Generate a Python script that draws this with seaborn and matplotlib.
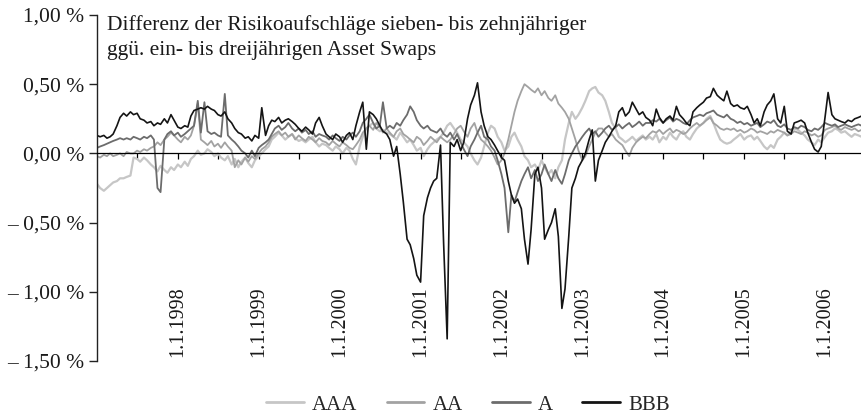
import numpy as np
import pandas as pd
import matplotlib
matplotlib.use("Agg")
import matplotlib.pyplot as plt
import seaborn as sns

# ---- data (values in %) : half-monthly readings 1997-01-01 .. 2006-06-15 ----
dates = pd.date_range("1997-01-01", periods=228, freq="SMS")

aaa = [-0.22, -0.25, -0.27, -0.25, -0.23, -0.21, -0.20, -0.18, -0.18, -0.17, -0.16,
       -0.03, -0.04, -0.06, -0.03, -0.05, -0.08,
       -0.10, -0.13, -0.09, -0.12, -0.14, -0.10, -0.12,
       -0.08, -0.10, -0.06, -0.09, -0.04, -0.02,
       0.02, -0.01, 0.00, 0.03, 0.01, -0.02,
       0.00, -0.03, -0.05, -0.02, -0.08, -0.04, -0.10, -0.06, -0.03,
       -0.07, -0.10, -0.05, -0.02, 0.00, 0.03, 0.05,
       0.10, 0.12, 0.15, 0.13, 0.10, 0.12, 0.14, 0.11, 0.09, 0.10, 0.08, 0.10, 0.12, 0.08, 0.05, 0.07,
       0.06, 0.04, 0.02, 0.05, 0.03, 0.00, 0.04, 0.02, -0.04, -0.08,
       0.05, 0.12, 0.18, 0.20, 0.22, 0.18, 0.16, 0.17, 0.15,
       0.14, 0.12, 0.10, 0.15, 0.12, 0.08, 0.10, 0.06, 0.02, 0.04, -0.02, 0.03, 0.06, 0.08,
       0.10, 0.12, 0.15, 0.20, 0.22, 0.18, 0.15, 0.10, 0.08, 0.05, 0.00, -0.05, -0.08, -0.03, 0.05,
       0.15, 0.20, 0.18, 0.12, 0.08, 0.02,
       0.05, 0.12, 0.15, 0.10, 0.05,
       -0.02, -0.05, -0.10, -0.08, -0.12, -0.05, -0.10, -0.15, -0.12, -0.18, -0.10,
       -0.05, 0.10, 0.22, 0.30, 0.25,
       0.28, 0.33, 0.38, 0.45, 0.47,
       0.48, 0.44, 0.42, 0.38, 0.30,
       0.22, 0.18, 0.12, 0.10, 0.08,
       0.10, 0.12, 0.09, 0.11, 0.13, 0.10,
       0.12, 0.10, 0.14, 0.08, 0.12, 0.10, 0.15, 0.12, 0.10,
       0.14, 0.16, 0.12, 0.10, 0.14, 0.18, 0.20, 0.22, 0.25, 0.27,
       0.22, 0.15, 0.10, 0.08, 0.07,
       0.08, 0.10, 0.12, 0.14, 0.10, 0.12, 0.13, 0.10, 0.12, 0.09,
       0.05, 0.03, 0.06, 0.04, 0.10, 0.12, 0.15, 0.13, 0.16, 0.18,
       0.17, 0.15, 0.13, 0.10, 0.08, 0.06, 0.10, 0.08,
       0.12, 0.15, 0.16, 0.18, 0.17, 0.15, 0.16, 0.14, 0.12, 0.14, 0.13, 0.12]

aa = [-0.02, -0.03, -0.01, -0.02, 0.00, -0.02, -0.01, 0.00, -0.02, 0.01, 0.00, 0.00, 0.02, 0.01, 0.03, 0.02, 0.04,
      0.05, 0.08, 0.06, 0.10, 0.12, 0.15, 0.13, 0.10, 0.08, 0.12, 0.10, 0.13, 0.20, 0.36,
      0.10, 0.08, 0.06, 0.09, 0.05, 0.07, 0.04, 0.08, 0.05, 0.02,
      -0.10, -0.05, -0.08, -0.03, -0.06, -0.02, -0.04, 0.00, 0.03, 0.05,
      0.08, 0.12, 0.14, 0.16, 0.13, 0.15, 0.12, 0.14, 0.10, 0.13, 0.11, 0.09, 0.12, 0.10, 0.08, 0.11, 0.09,
      0.08, 0.06, 0.09, 0.07, 0.05, 0.08, 0.06, 0.04, 0.03, 0.06, 0.10, 0.15, 0.18, 0.20, 0.17, 0.22, 0.19, 0.15, 0.18,
      0.15, 0.12, 0.16, 0.18, 0.14, 0.12, 0.10, 0.08, 0.12, 0.10, 0.06, 0.09, 0.12, 0.10, 0.08, 0.12, 0.10,
      0.08, 0.10, 0.14, 0.18, 0.20, 0.16, 0.12, 0.18, 0.22, 0.15, 0.10, 0.08, 0.05,
      0.02, -0.03, -0.08, -0.05, 0.00, 0.10, 0.20, 0.30, 0.38, 0.45, 0.50, 0.48,
      0.46, 0.44, 0.47, 0.42, 0.45, 0.40, 0.38, 0.42, 0.36, 0.33, 0.30,
      0.25, 0.18, 0.10, 0.02, -0.05, -0.02, 0.05, 0.10, 0.15, 0.18,
      0.18, 0.15, 0.12, 0.14, 0.10, 0.08, 0.06, 0.02, -0.02, 0.04, 0.08, 0.10, 0.12, 0.11,
      0.14, 0.16, 0.15, 0.17, 0.14, 0.16, 0.18, 0.15, 0.17,
      0.16, 0.14, 0.15, 0.18, 0.20, 0.22, 0.20, 0.22, 0.24, 0.26,
      0.22, 0.20, 0.18, 0.17, 0.18,
      0.17, 0.18, 0.16, 0.17, 0.15, 0.16, 0.18, 0.17, 0.15, 0.16,
      0.15, 0.14, 0.16, 0.15, 0.17, 0.16, 0.15, 0.13, 0.14, 0.16,
      0.15, 0.14, 0.16, 0.15, 0.13, 0.14, 0.12, 0.13,
      0.17, 0.18, 0.19, 0.20, 0.18, 0.17, 0.19, 0.18, 0.17, 0.18, 0.16, 0.17]

a = [0.04, 0.05, 0.06, 0.07, 0.08, 0.09, 0.10, 0.11, 0.10, 0.11, 0.10, 0.12, 0.11, 0.10, 0.12, 0.11, 0.13,
     0.10, -0.25, -0.28,
     0.10, 0.14, 0.16, 0.13, 0.15, 0.12, 0.14, 0.16, 0.18, 0.20, 0.38, 0.15, 0.37, 0.16, 0.14, 0.15, 0.13, 0.12, 0.43, 0.13, 0.10,
     0.08, 0.05, 0.02, 0.00, -0.03, 0.02, -0.02, 0.04, 0.06, 0.08,
     0.10, 0.14, 0.18, 0.20, 0.17, 0.19, 0.22, 0.18, 0.16, 0.18, 0.15, 0.17, 0.14, 0.16, 0.12, 0.14, 0.13,
     0.12, 0.10, 0.13, 0.11, 0.09, 0.12, 0.10, 0.13, 0.15, 0.12, 0.16, 0.22, 0.25, 0.28, 0.22, 0.18, 0.20, 0.37, 0.18,
     0.20, 0.18, 0.22, 0.20, 0.24, 0.28, 0.34, 0.30, 0.24, 0.20, 0.18, 0.20, 0.17, 0.16, 0.15, 0.18, 0.14,
     0.12, 0.15, 0.10, 0.14, 0.08, 0.03, -0.02, 0.05, 0.10, 0.15, 0.20, 0.12, 0.10,
     0.05, 0.02, -0.05, -0.15, -0.25, -0.57, -0.30, -0.35, -0.28, -0.20,
     -0.15, -0.10, -0.18, -0.12, -0.20, -0.15, -0.08, -0.15, -0.20, -0.12, -0.18, -0.22, -0.15, -0.05,
     0.00, 0.05, 0.08, 0.12, 0.15, 0.18, 0.14, 0.16, 0.12, 0.15, 0.18, 0.20, 0.17, 0.19, 0.21, 0.18, 0.20, 0.22, 0.19, 0.21, 0.23, 0.20, 0.22,
     0.22, 0.24, 0.23, 0.25, 0.22, 0.24, 0.26, 0.23, 0.25,
     0.24, 0.22, 0.21, 0.24, 0.26, 0.27, 0.28, 0.27, 0.29, 0.30,
     0.31, 0.28, 0.27, 0.26, 0.28,
     0.25, 0.24, 0.22, 0.23, 0.21, 0.22, 0.20, 0.21, 0.22, 0.19,
     0.21, 0.23, 0.22, 0.24, 0.20, 0.19, 0.21, 0.18, 0.17, 0.19,
     0.18, 0.20, 0.19, 0.17, 0.16, 0.18, 0.17, 0.19,
     0.22, 0.21, 0.20, 0.21, 0.19, 0.20, 0.21, 0.20, 0.19, 0.20, 0.21, 0.20]

bbb = [0.13, 0.12, 0.13, 0.11, 0.12,
       0.14, 0.20, 0.26,
       0.29, 0.27, 0.30, 0.28, 0.29,
       0.25, 0.24, 0.22, 0.23,
       0.20, 0.22, 0.21, 0.25,
       0.22, 0.28, 0.24,
       0.19, 0.18, 0.20, 0.19,
       0.27, 0.31,
       0.32, 0.33, 0.32, 0.34, 0.32, 0.31,
       0.28, 0.27, 0.30, 0.25,
       0.22, 0.18, 0.15, 0.14, 0.11,
       0.12, 0.09, 0.13, 0.11,
       0.33,
       0.13, 0.20, 0.24, 0.23,
       0.26, 0.22, 0.24, 0.25, 0.23,
       0.21, 0.18, 0.16, 0.19, 0.17, 0.14,
       0.22, 0.26, 0.20,
       0.14, 0.12, 0.10, 0.14, 0.12, 0.08, 0.13, 0.15, 0.10,
       0.20,
       0.30, 0.37, 0.03, 0.30, 0.28,
       0.25, 0.20, 0.16, 0.14,
       0.10, -0.02, 0.05,
       -0.15, -0.35, -0.62, -0.66, -0.76, -0.88, -0.93, -0.45, -0.32, -0.25, -0.20, -0.18,
       0.06, -0.65, -1.34, 0.08, 0.05,
       0.10, 0.02, 0.08,
       0.25, 0.35, 0.42, 0.51,
       0.30, 0.20, 0.12,
       0.10, 0.06, 0.02, -0.03, -0.05,
       -0.20, -0.30,
       -0.36, -0.33, -0.40,
       -0.62, -0.80, -0.55,
       -0.15, -0.10, -0.25, -0.62, -0.55, -0.50, -0.40, -0.60,
       -1.12, -0.98, -0.60, -0.25,
       -0.18, -0.10, -0.05, 0.00, 0.10, 0.17, -0.20, -0.05,
       0.02, 0.08, 0.12, 0.16, 0.20,
       0.30, 0.33, 0.27, 0.30, 0.37, 0.32, 0.28, 0.30, 0.26,
       0.24, 0.20, 0.32, 0.26, 0.22,
       0.25, 0.27, 0.24, 0.34,
       0.28, 0.25, 0.22, 0.20,
       0.30, 0.33, 0.35, 0.37, 0.40, 0.41,
       0.47,
       0.42, 0.40, 0.38, 0.45,
       0.36, 0.34, 0.35, 0.33, 0.32, 0.34,
       0.28, 0.22, 0.25, 0.20,
       0.30, 0.35, 0.38, 0.43,
       0.25, 0.22, 0.34,
       0.16, 0.14, 0.22,
       0.23, 0.24, 0.22, 0.15,
       0.08, 0.03, 0.01,
       0.05, 0.26, 0.44,
       0.28, 0.25, 0.24, 0.23, 0.22,
       0.24, 0.23, 0.25, 0.26, 0.27]

series_names = ["AAA", "AA", "A", "BBB"]
series_colors = ["#c6c6c6", "#a2a2a2", "#6c6c6c", "#141414"]
series_widths = [1.6, 1.3, 1.3, 1.2]

year_labels = ["1.1.1998", "1.1.1999", "1.1.2000", "1.1.2001", "1.1.2002",
               "1.1.2003", "1.1.2004", "1.1.2005", "1.1.2006"]
ytick_vals = [1.0, 0.5, 0.0, -0.5, -1.0, -1.5]
ytick_labels = ["1,00 %", "0,50 %", "0,00 %", "– 0,50 %", "– 1,00 %", "– 1,50 %"]
title_lines = ["Differenz der Risikoaufschläge sieben- bis zehnjähriger",
               "ggü. ein- bis dreijährigen Asset Swaps"]

# ---- figure ----
sns.set_theme(style="white")
plt.rcParams["font.family"] = ["Liberation Serif", "DejaVu Serif"]
FS = 14.5
FS_TITLE = 15.5
FS_Y = 15.5
FS_LEG = 15

values = {"AAA": aaa, "AA": aa, "A": a, "BBB": bbb}
df = pd.concat([pd.DataFrame({"date": dates, "value": values[n], "rating": n}) for n in series_names],
               ignore_index=True)

fig = plt.figure(figsize=(8.62, 4.17), dpi=100)
ax = fig.add_axes([97 / 862, 56 / 417, 765 / 862, 346 / 417])

for name, col, lw in zip(series_names, series_colors, series_widths):
    sns.lineplot(data=df[df["rating"] == name], x="date", y="value", color=col,
                 linewidth=lw, ax=ax, label=name, legend=False)

ax.set_ylim(-1.5, 1.0)
ax.set_xlim(dates[0], pd.Timestamp("2006-06-17"))

for s in ["top", "right"]:
    ax.spines[s].set_visible(False)
ax.spines["bottom"].set_position(("data", 0))
ax.spines["bottom"].set_color("black")
ax.spines["bottom"].set_linewidth(0.9)
ax.spines["left"].set_color("#222222")
ax.spines["left"].set_linewidth(1.0)

half_years = pd.date_range("1997-07-01", "2006-01-01", freq="6MS")
ax.set_xticks(half_years)
ax.set_xticklabels([])
ax.tick_params(axis="x", bottom=True, direction="out", length=4, width=0.9, color="black")
ax.set_yticks(ytick_vals)
ax.set_yticklabels(ytick_labels)
ax.tick_params(axis="y", left=True, direction="out", length=6, width=1.0, color="#222222",
               labelsize=FS_Y, pad=3, labelcolor="#1a1a1a")
ax.set_xlabel("")
ax.set_ylabel("")

label_dates = pd.date_range("1998-01-01", periods=len(year_labels), freq="YS")
for d, lab in zip(label_dates, year_labels):
    ax.text(d, -1.47, lab, rotation=90, ha="center", va="bottom", fontsize=FS, color="#1a1a1a")

fig.text(107 / 862, 1 - 25 / 417, title_lines[0], ha="left", va="center", fontsize=FS_TITLE, color="#1a1a1a")
fig.text(107 / 862, 1 - 51 / 417, title_lines[1], ha="left", va="center", fontsize=FS_TITLE, color="#1a1a1a")

handles, labels = ax.get_legend_handles_labels()
leg = fig.legend(handles, labels, loc="center", bbox_to_anchor=(468 / 862, 1 - 405 / 417), ncol=4,
                 frameon=False, handlelength=1.8, handletextpad=0.4, columnspacing=1.4, fontsize=FS_LEG)
for h in leg.get_lines():
    h.set_linewidth(2.0)

fig.savefig("out.png", dpi=100)
